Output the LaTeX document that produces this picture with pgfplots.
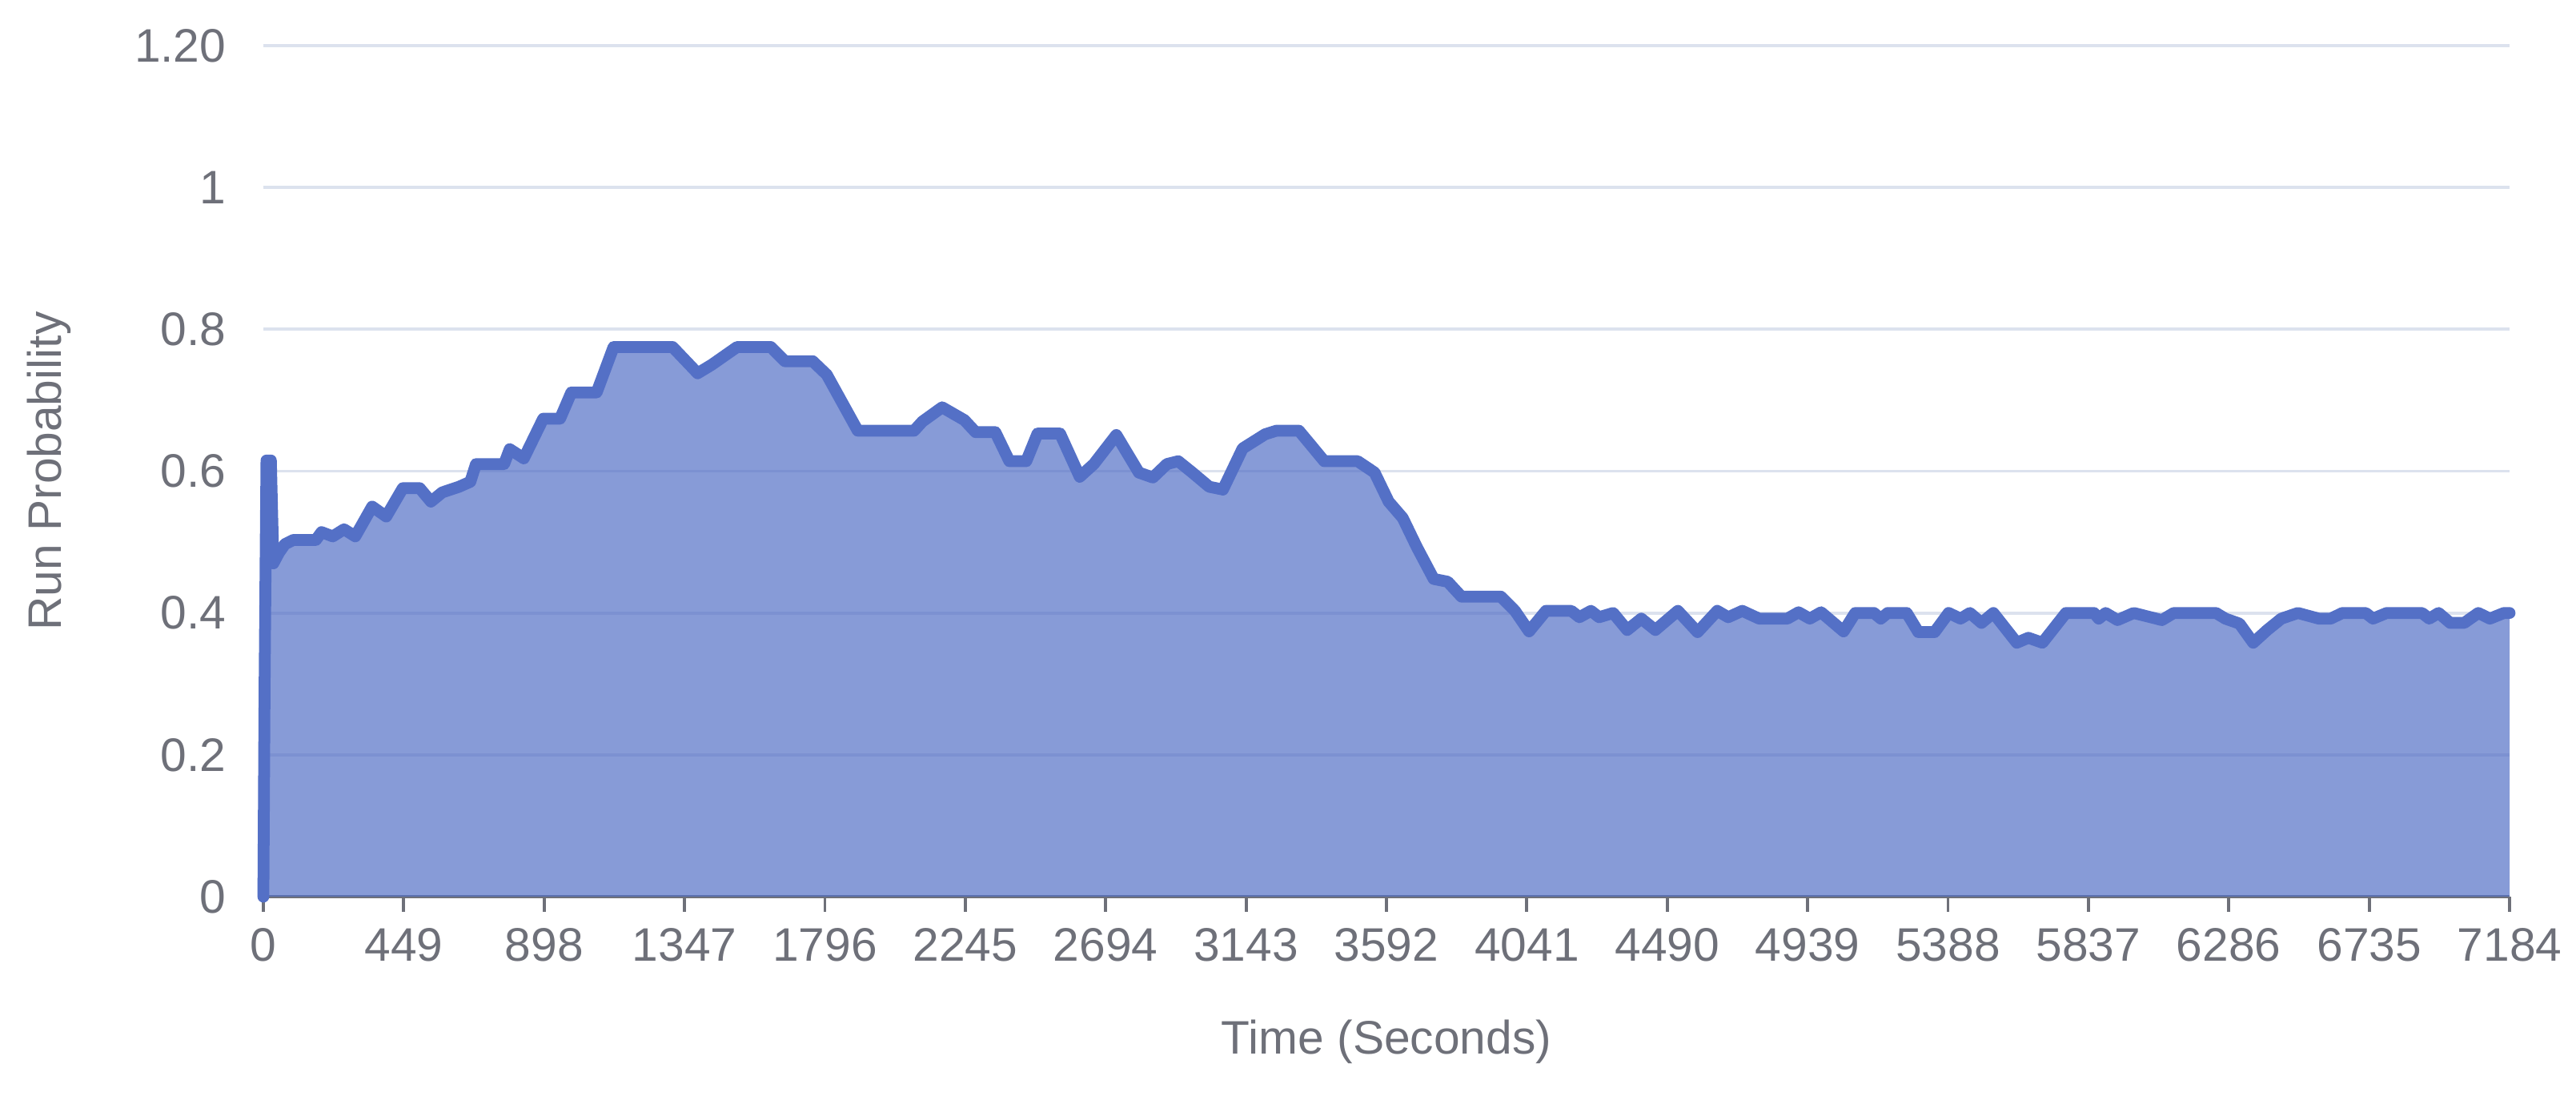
\documentclass[border=0pt]{standalone}
\usepackage{pgfplots}
\pgfplotsset{compat=1.18}
\usepackage{pgfplotstable}
\usepackage{fontspec}
\setmainfont{Liberation Sans}
\usetikzlibrary{calc}

\definecolor{lineblue}{HTML}{5470C6}
\definecolor{gridcol}{HTML}{DCE2EE}
\definecolor{txtgray}{HTML}{6E7079}

\pgfplotstableread{
t v
0 0
4 0.30
10 0.615
24 0.615
32 0.47
50 0.485
69 0.497
96 0.503
168 0.503
186 0.514
222 0.508
258 0.518
294 0.508
348 0.55
393 0.536
446 0.576
500 0.576
536 0.557
572 0.57
626 0.578
662 0.585
680 0.61
770 0.61
788 0.631
833 0.618
895 0.674
949 0.674
985 0.711
1066 0.711
1120 0.775
1309 0.775
1389 0.738
1434 0.75
1515 0.775
1623 0.775
1668 0.755
1757 0.755
1802 0.736
1901 0.657
2081 0.657
2108 0.67
2171 0.69
2242 0.672
2278 0.655
2341 0.655
2386 0.614
2440 0.614
2476 0.653
2548 0.653
2611 0.592
2656 0.61
2728 0.651
2800 0.598
2845 0.591
2890 0.61
2926 0.614
2971 0.598
3025 0.578
3069 0.574
3132 0.632
3204 0.652
3240 0.657
3312 0.657
3348 0.638
3393 0.614
3500 0.614
3554 0.598
3599 0.557
3644 0.534
3689 0.493
3743 0.448
3788 0.444
3832 0.423
3958 0.423
4003 0.403
4048 0.374
4102 0.403
4183 0.403
4209 0.394
4246 0.403
4272 0.394
4317 0.400
4362 0.376
4407 0.392
4452 0.376
4524 0.403
4587 0.373
4650 0.403
4685 0.394
4730 0.403
4784 0.392
4874 0.392
4910 0.401
4946 0.392
4982 0.401
5054 0.374
5091 0.4
5151 0.4
5173 0.392
5195 0.4
5256 0.4
5293 0.373
5345 0.373
5390 0.4
5428 0.392
5458 0.4
5495 0.386
5533 0.4
5608 0.358
5645 0.365
5690 0.358
5765 0.4
5855 0.4
5870 0.392
5892 0.4
5930 0.39
5982 0.4
6072 0.39
6110 0.4
6245 0.4
6275 0.392
6320 0.385
6364 0.358
6409 0.376
6454 0.392
6507 0.4
6574 0.392
6612 0.392
6649 0.4
6724 0.4
6747 0.392
6791 0.4
6904 0.4
6927 0.392
6957 0.4
6994 0.386
7039 0.386
7084 0.4
7121 0.392
7166 0.4
7184 0.4
}\runprob

\begin{document}
\begin{tikzpicture}
  \begin{axis}[
      scale only axis,
      width=28.06cm, height=10.63cm,
      xmin=0, xmax=7184,
      ymin=0, ymax=1.2,
      clip=false,
      axis lines*=left,
      y axis line style={draw=none},
      x axis line style={draw=txtgray, line width=1.1pt},
      ytick={0,0.2,0.4,0.6,0.8,1,1.2},
      yticklabels={0,0.2,0.4,0.6,0.8,1,1.20},
      xtick={0,449,898,1347,1796,2245,2694,3143,3592,4041,4490,4939,5388,5837,6286,6735,7184},
      xticklabels={0,449,898,1347,1796,2245,2694,3143,3592,4041,4490,4939,5388,5837,6286,6735,7184},
      ytick style={draw=none},
      xtick style={draw=txtgray, line width=1.1pt},
      tick align=outside,
      major tick length=0.19cm,
      ymajorgrids,
      grid style={draw=gridcol, line width=1.1pt},
      /pgf/number format/assume math mode=true,
      ticklabel style={font=\fontsize{16.7}{20}\selectfont, text=txtgray},
      yticklabel style={inner xsep=0pt, xshift=-0.27cm},
      xticklabel style={inner ysep=0pt, yshift=-0.2cm},
      label style={font=\fontsize{16.7}{20}\selectfont, text=txtgray},
      xlabel={Time (Seconds)},
      ylabel={Run Probability},
      xlabel style={at={(axis description cs:0.5,-0.1703)}, anchor=center},
      ylabel style={at={(axis description cs:-0.0955,0.5)}, anchor=center},
    ]
    \coordinate (bl) at (rel axis cs:0,0);
    \coordinate (tr) at (rel axis cs:1,1);
    % area below the curve
    \addplot[draw=none, fill=lineblue, fill opacity=0.7] table[x=t, y=v] {\runprob} \closedcycle;
    % the curve
    \addplot[draw=lineblue, line width=4.2pt, line join=round, line cap=round, mark=none] table[x=t, y=v] {\runprob};
  \end{axis}
  \pgfresetboundingbox
  \path ($(bl)+(-3.29cm,-2.49cm)$) rectangle ($(tr)+(0.83cm,0.57cm)$);
\end{tikzpicture}
\end{document}
